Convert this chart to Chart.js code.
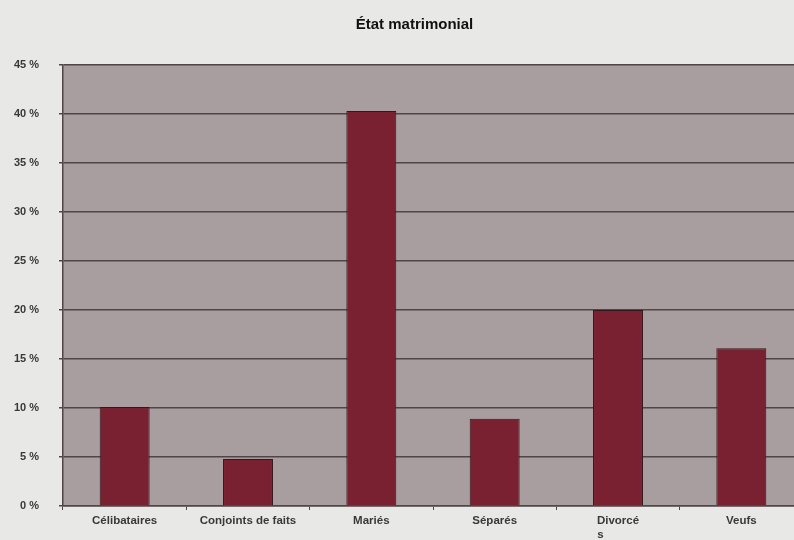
<!DOCTYPE html>
<html lang="fr">
<head>
<meta charset="utf-8">
<title>État matrimonial</title>
<script src="https://cdn.jsdelivr.net/npm/chart.js@4/dist/chart.umd.min.js"></script>
<style>
  html, body { margin: 0; padding: 0; background: #e8e8e6; overflow: hidden; }
  #wrap { position: relative; width: 832px; height: 540px; }
</style>
</head>
<body>
<div id="wrap"><canvas id="chart" width="832" height="540"></canvas></div>
<script>
(function () {
  "use strict";

  var categories = ["Célibataires", "Conjoints de faits", "Mariés", "Séparés", ["Divorcé", "s".padEnd(12, " ")], "Veufs"];
  var values = [10.1, 4.8, 40.3, 8.9, 20.0, 16.1];
  var yTicks = [0, 5, 10, 15, 20, 25, 30, 35, 40, 45];

  var TEXT = "#3a3838";
  var GRID = "#4e4649";
  var FONT = "'Liberation Sans', Arial, sans-serif";

  // grey panel behind the bars, and nudge the title to the page centre
  var plotBg = {
    id: "plotBg",
    afterLayout: function (chart) {
      if (chart.titleBlock) {
        chart.titleBlock.left += 8;
        chart.titleBlock.right += 8;
      }
    },
    beforeDraw: function (chart) {
      var a = chart.chartArea;
      var ctx = chart.ctx;
      ctx.save();
      ctx.fillStyle = "#a89d9f";
      ctx.fillRect(a.left, a.top, a.right - a.left, a.bottom - a.top);
      ctx.restore();
    }
  };

  new Chart(document.getElementById("chart"), {
    type: "bar",
    data: {
      labels: categories,
      datasets: [{
        data: values,
        backgroundColor: "#7a2131",
        borderColor: "#33171b",
        borderWidth: 1,
        categoryPercentage: 1,
        barPercentage: 0.405
      }]
    },
    plugins: [plotBg],
    options: {
      responsive: false,
      animation: false,
      layout: { padding: { left: 10, right: 29, top: 0, bottom: 0 } },
      plugins: {
        legend: { display: false },
        tooltip: { enabled: false },
        title: {
          display: true,
          text: "État matrimonial",
          color: "#111",
          font: { family: FONT, size: 15, weight: "bold" },
          padding: { top: 16, bottom: 31 }
        }
      },
      scales: {
        x: {
          afterFit: function (s) { s.height = 34; },
          grid: { display: true, drawOnChartArea: false, drawTicks: true, tickLength: 4, color: GRID },
          border: { display: true, color: GRID, width: 1.5 },
          ticks: {
            color: TEXT,
            padding: 4,
            maxRotation: 0,
            autoSkip: false,
            font: { family: FONT, size: 11.5, weight: "bold" }
          }
        },
        y: {
          min: 0,
          max: 45,
          afterFit: function (s) { s.width = 53; },
          afterBuildTicks: function (s) {
            s.ticks = yTicks.map(function (v) { return { value: v }; });
          },
          grid: { color: GRID, lineWidth: 1.5, drawTicks: true, tickLength: 4 },
          border: { display: true, color: GRID, width: 1.5 },
          ticks: {
            color: TEXT,
            padding: 20,
            autoSkip: false,
            font: { family: FONT, size: 11, weight: "bold" },
            callback: function (v) { return v + " %"; }
          }
        }
      }
    }
  });
})();
</script>
</body>
</html>
